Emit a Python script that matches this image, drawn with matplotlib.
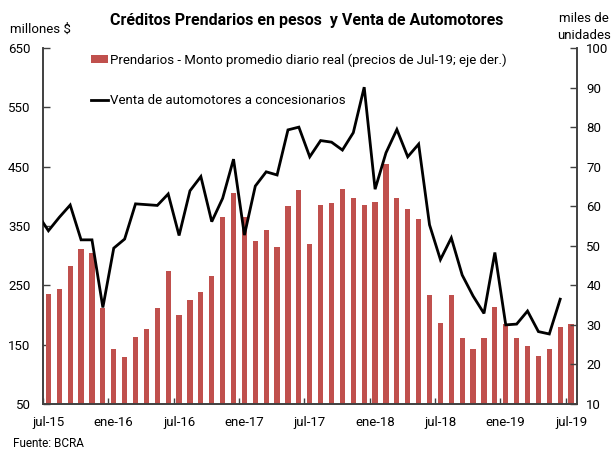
import matplotlib
matplotlib.use("Agg")
import matplotlib.pyplot as plt
from matplotlib.patches import Patch
from matplotlib.lines import Line2D
import numpy as np

plt.rcParams['font.family'] = ['Roboto', 'DejaVu Sans']

# Months jul-15 .. jul-19 (49 months)
months = ["jul-15","ago-15","sep-15","oct-15","nov-15","dic-15",
          "ene-16","feb-16","mar-16","abr-16","may-16","jun-16",
          "jul-16","ago-16","sep-16","oct-16","nov-16","dic-16",
          "ene-17","feb-17","mar-17","abr-17","may-17","jun-17",
          "jul-17","ago-17","sep-17","oct-17","nov-17","dic-17",
          "ene-18","feb-18","mar-18","abr-18","may-18","jun-18",
          "jul-18","ago-18","sep-18","oct-18","nov-18","dic-18",
          "ene-19","feb-19","mar-19","abr-19","may-19","jun-19","jul-19"]

# Prendarios - monto promedio diario real (millones $)
prendarios = [235, 243, 283, 311, 305, 212, 143, 129, 163, 177, 212, 274, 200,
              225, 238, 265, 366, 405, 365, 325, 343, 314, 383, 411, 320,
              385, 389, 413, 398, 385, 390, 454, 398, 378, 362, 233, 187,
              233, 162, 143, 161, 214, 185, 161, 147, 131, 142, 179, 184]

# Venta de automotores a concesionarios (miles de unidades), jun-15 .. jun-19
venta_months = ["jun-15"] + months[:-1]
venta = [58.0, 53.8, 57.2, 60.3, 51.5, 51.5, 34.4, 49.4, 51.7, 60.6, 60.4, 60.2,
         63.1, 52.6, 63.9, 67.5, 56.1, 62.0, 71.9, 52.7, 65.1, 68.7, 67.9,
         79.3, 80.0, 72.5, 76.6, 76.2, 74.2, 78.6, 90.1, 64.3, 73.5, 79.4,
         72.5, 75.7, 55.3, 46.5, 52.0, 42.6, 37.3, 32.9, 48.3, 30.0, 30.2,
         33.5, 28.3, 27.7, 36.5]

tick_labels = ["jul-15", "ene-16", "jul-16", "ene-17", "jul-17",
               "ene-18", "jul-18", "ene-19", "jul-19"]

bar_color = "#C0504D"
axis_color = "#404040"

fig = plt.figure(figsize=(6.13, 4.53), dpi=100)
ax = fig.add_axes([0.0701, 0.1082, 0.8704, 0.7858])
ax2 = ax.twinx()

x = np.arange(len(months))
ax.bar(x, prendarios, width=0.48, color=bar_color, zorder=2)

xv = np.arange(len(venta)) - 1
ax2.plot(xv, venta, color="black", lw=2.0, zorder=3, solid_joinstyle='miter')

ax.set_xlim(-0.5, len(months) - 0.5)
ax.set_ylim(50, 650)
ax2.set_ylim(10, 100)
ax.set_yticks(np.arange(50, 651, 100))
ax2.set_yticks(np.arange(10, 101, 10))

# category axis: labels on months, tick marks at category boundaries
label_pos = [months.index(t) for t in tick_labels]
ax.set_xticks(label_pos)
ax.set_xticklabels(tick_labels)
ax.set_xticks([p - 0.5 for p in label_pos], minor=True)
ax.tick_params(axis='x', which='major', length=0, pad=9, labelsize=9.5)
ax.tick_params(axis='x', which='minor', length=4, direction='in', color=axis_color, width=1)

ax.tick_params(axis='y', direction='in', length=5, pad=9, labelsize=9.5, color=axis_color, width=1)
ax2.tick_params(axis='y', direction='in', length=5, pad=7, labelsize=9.5, color=axis_color, width=1)

for a in (ax, ax2):
    a.spines['top'].set_visible(False)
    for s in ('left', 'right', 'bottom'):
        a.spines[s].set_color(axis_color)
        a.spines[s].set_linewidth(1.2)

handles = [Patch(facecolor=bar_color, edgecolor='none'),
           Line2D([0], [0], color='black', lw=2.0)]
labels = ["Prendarios - Monto promedio diario real (precios de Jul-19; eje der.)",
          "Venta de automotores a concesionarios"]
ax2.legend(handles, labels, loc='upper left', bbox_to_anchor=(0.09, 0.985),
           frameon=False, fontsize=9.5, handlelength=1.3, handleheight=0.6,
           handletextpad=0.15, labelspacing=2.1, borderpad=0, borderaxespad=0)

fig.text(0.5, 0.955, "Créditos Prendarios en pesos  y Venta de Automotores",
         ha='center', va='center', fontsize=11.5, fontweight='bold')
fig.text(0.017, 0.935, "millones $", ha='left', va='center', fontsize=9.5)
fig.text(0.953, 0.94, "miles de\nunidades", ha='center', va='center', fontsize=9.5,
         linespacing=1.35)
fig.text(0.021, 0.022, "Fuente: BCRA", ha='left', va='center', fontsize=8.5)

fig.savefig("out.png", dpi=100)
